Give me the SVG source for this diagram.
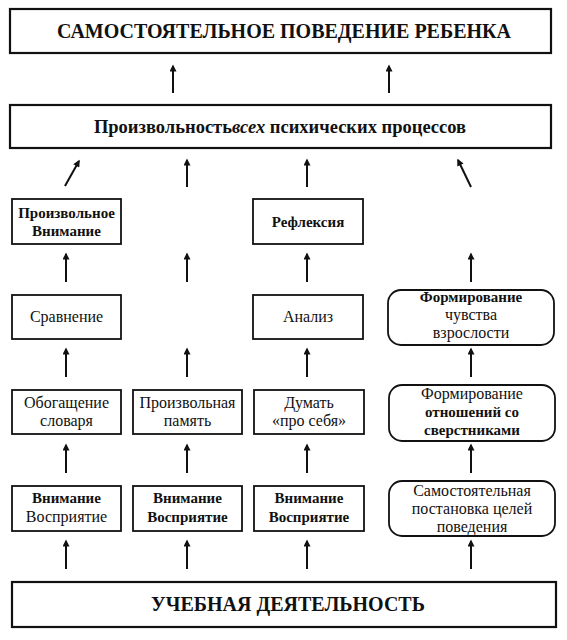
<svg xmlns="http://www.w3.org/2000/svg" width="567" height="640" viewBox="0 0 567 640">
<style>
.big{fill:#fff;stroke:#111;stroke-width:2.2}
.box{fill:#fff;stroke:#111;stroke-width:1.8}
.t{font-family:"Liberation Serif","Times New Roman",serif;fill:#111;text-anchor:middle}
.h{font-size:20px;font-weight:bold}
.m{font-size:18.5px;font-weight:bold}
.s{font-size:16px}
.b{font-weight:bold;font-size:15px}
.arr{stroke:#111;stroke-width:2;fill:none;marker-end:url(#ah)}
</style>
<defs>
<marker id="ah" viewBox="0 0 10 10" refX="8" refY="5" markerWidth="8" markerHeight="7" orient="auto" markerUnits="userSpaceOnUse">
<path d="M0,0 L10,5 L0,10 z" fill="#111"/>
</marker>
</defs>
<rect width="567" height="640" fill="#fff"/>

<g id="connectors">
<line class="arr" x1="173" y1="93" x2="173" y2="66"/>
<line class="arr" x1="389" y1="93" x2="389" y2="66"/>
<line class="arr" x1="65" y1="186" x2="79" y2="161"/>
<line class="arr" x1="187" y1="187" x2="187" y2="160"/>
<line class="arr" x1="307" y1="187" x2="307" y2="160"/>
<line class="arr" x1="471" y1="187" x2="458" y2="160"/>
<line class="arr" x1="66" y1="282" x2="66" y2="254"/>
<line class="arr" x1="187" y1="282" x2="187" y2="254"/>
<line class="arr" x1="307" y1="282" x2="307" y2="254"/>
<line class="arr" x1="471" y1="282" x2="471" y2="254"/>
<line class="arr" x1="66" y1="377" x2="66" y2="349"/>
<line class="arr" x1="187" y1="377" x2="187" y2="349"/>
<line class="arr" x1="307" y1="377" x2="307" y2="349"/>
<line class="arr" x1="471" y1="377" x2="471" y2="349"/>
<line class="arr" x1="66" y1="473" x2="66" y2="445"/>
<line class="arr" x1="187" y1="473" x2="187" y2="445"/>
<line class="arr" x1="307" y1="473" x2="307" y2="445"/>
<line class="arr" x1="471" y1="473" x2="471" y2="445"/>
<line class="arr" x1="66" y1="569" x2="66" y2="541"/>
<line class="arr" x1="187" y1="569" x2="187" y2="541"/>
<line class="arr" x1="307" y1="569" x2="307" y2="541"/>
<line class="arr" x1="471" y1="569" x2="471" y2="541"/>
</g>

<g id="behavior">
<rect class="big" x="10" y="9" width="541" height="44"/>
<text class="t h" x="284" y="38">САМОСТОЯТЕЛЬНОЕ ПОВЕДЕНИЕ РЕБЕНКА</text>
</g>

<g id="processes">
<rect class="big" x="10" y="105" width="541" height="43"/>
<text class="t m" x="280" y="133">Произвольность<tspan font-style="italic">всех</tspan> психических процессов</text>
</g>

<g id="vol-attention">
<rect class="box" x="12" y="199" width="109" height="45"/>
<text class="t s b" x="66.5" y="218">Произвольное</text>
<text class="t s b" x="66.5" y="236">Внимание</text>
</g>

<g id="reflexion">
<rect class="box" x="253" y="199" width="110" height="45"/>
<text class="t s b" x="308" y="227">Рефлексия</text>
</g>

<g id="comparison">
<rect class="box" x="12" y="295" width="109" height="44"/>
<text class="t s" x="66.5" y="322">Сравнение</text>
</g>

<g id="analysis">
<rect class="box" x="253" y="295" width="110" height="44"/>
<text class="t s" x="308" y="322">Анализ</text>
</g>

<g id="adulthood">
<rect class="box" x="388" y="290" width="166" height="55" rx="13" ry="13"/>
<text class="t s b" x="471" y="302">Формирование</text>
<text class="t s" x="471" y="320">чувства</text>
<text class="t s" x="471" y="338">взрослости</text>
</g>

<g id="vocabulary">
<rect class="box" x="12" y="390" width="109" height="44"/>
<text class="t s" x="66.5" y="408">Обогащение</text>
<text class="t s" x="66.5" y="426">словаря</text>
</g>

<g id="vol-memory">
<rect class="box" x="133" y="390" width="109" height="44"/>
<text class="t s" x="187.5" y="408">Произвольная</text>
<text class="t s" x="187.5" y="426">память</text>
</g>

<g id="think">
<rect class="box" x="254" y="390" width="110" height="44"/>
<text class="t s" x="309" y="408">Думать</text>
<text class="t s" x="309" y="426">«про себя»</text>
</g>

<g id="peers">
<rect class="box" x="389" y="385" width="166" height="56" rx="13" ry="13"/>
<text class="t s" x="472" y="399">Формирование</text>
<text class="t s b" x="472" y="417">отношений со</text>
<text class="t s b" x="472" y="435">сверстниками</text>
</g>

<g id="att-perc-1">
<rect class="box" x="12" y="486" width="109" height="45"/>
<text class="t s b" x="66.5" y="503">Внимание</text>
<text class="t s" x="66.5" y="522">Восприятие</text>
</g>

<g id="att-perc-2">
<rect class="box" x="133" y="486" width="109" height="45"/>
<text class="t s b" x="187.5" y="503">Внимание</text>
<text class="t s b" x="187.5" y="522">Восприятие</text>
</g>

<g id="att-perc-3">
<rect class="box" x="254" y="486" width="110" height="45"/>
<text class="t s b" x="309" y="503">Внимание</text>
<text class="t s b" x="309" y="522">Восприятие</text>
</g>

<g id="goals">
<rect class="box" x="389" y="481" width="166" height="55" rx="13" ry="13"/>
<text class="t s" x="472" y="496">Самостоятельная</text>
<text class="t s" x="472" y="514">постановка целей</text>
<text class="t s" x="472" y="532">поведения</text>
</g>

<g id="learning">
<rect class="big" x="12" y="582" width="544" height="45"/>
<text class="t h" x="288" y="611">УЧЕБНАЯ ДЕЯТЕЛЬНОСТЬ</text>
</g>
</svg>
